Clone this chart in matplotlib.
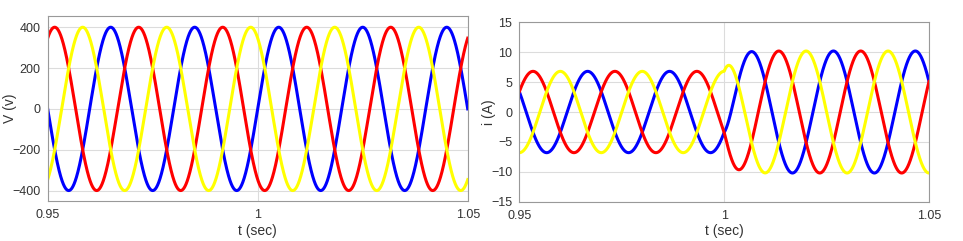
import numpy as np
import matplotlib.pyplot as plt

plt.rcParams['font.family'] = ['Liberation Sans', 'DejaVu Sans']

# values (three-phase source, 50 Hz)
freq = 50.0
phase_deg = [0.0, -120.0, 120.0]            # blue, red, yellow
colors = ['#0000ff', '#ff0000', '#ffff00']
v_peak = 400.0
i_peak_before = 6.8
i_peak_after = 10.2
i_lag_deg = 30.0
t_step = 1.0
tau_step = 0.0019
t_start, t_end = 0.95, 1.05
v_ticks = [-400, -200, 0, 200, 400]
i_ticks = [-15, -10, -5, 0, 5, 10, 15]
t_ticks = [0.95, 1.0, 1.05]
t_labels = ['0.95', '1', '1.05']

t = np.linspace(t_start, t_end, 4000)
w = 2 * np.pi * freq
amp_i = np.where(t < t_step, i_peak_before,
                 i_peak_after - (i_peak_after - i_peak_before) * np.exp(-(t - t_step) / tau_step))

fig = plt.figure(figsize=(9.63, 2.41), dpi=100)
ax_v = fig.add_axes([0.0495, 0.167, 0.4362, 0.7666])
ax_i = fig.add_axes([0.5393, 0.163, 0.4254, 0.7445])

for ph, c in zip(phase_deg, colors):
    ax_v.plot(t, v_peak * np.sin(w * t + np.radians(ph)), color=c, lw=2.2)
    ax_i.plot(t, amp_i * np.sin(w * t + np.radians(ph - i_lag_deg)), color=c, lw=2.2)

for ax in (ax_v, ax_i):
    ax.set_xlim(t_start, t_end)
    ax.set_xticks(t_ticks)
    ax.set_xticklabels(t_labels)
    ax.grid(True, color='#dcdcdc', lw=0.8)
    ax.set_axisbelow(True)
    ax.tick_params(length=0, labelsize=9, colors='#333333', pad=5)
    ax.tick_params(axis='x', pad=6)
    for s in ax.spines.values():
        s.set_color('#999999')
        s.set_linewidth(0.8)
    ax.set_xlabel('t (sec)', fontsize=10, color='#333333')

ax_v.set_ylim(-450, 455)
ax_v.set_yticks(v_ticks)
ax_v.set_ylabel('V (v)', fontsize=10, color='#333333')
ax_v.yaxis.set_label_coords(-0.073, 0.5)
ax_v.xaxis.set_label_coords(0.5, -0.126)

ax_i.set_ylim(-15, 15)
ax_i.set_yticks(i_ticks)
ax_i.set_ylabel('i (A)', fontsize=10, color='#333333')
ax_i.yaxis.set_label_coords(-0.0568, 0.5)
ax_i.xaxis.set_label_coords(0.5, -0.124)

fig.savefig('out.png', dpi=100)
